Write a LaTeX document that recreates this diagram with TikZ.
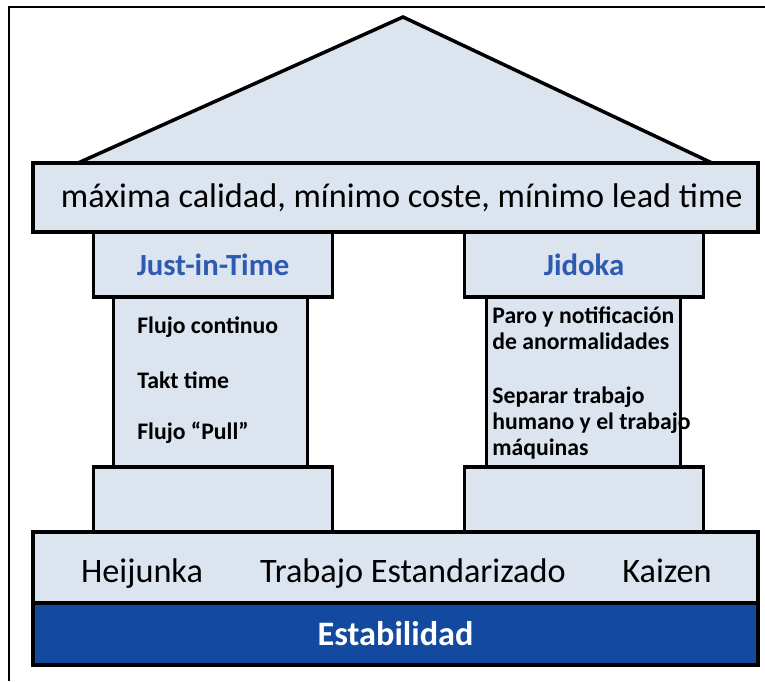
\documentclass[tikz,border=0pt]{standalone}
\usepackage{fontspec}
\setmainfont{Carlito}
\usepackage{tikz}
\usetikzlibrary{positioning}
\definecolor{TempleFill}{HTML}{DCE4F0}
\definecolor{TitleBlue}{HTML}{2D5BB0}
\definecolor{BaseBlue}{HTML}{134A9F}
\tikzset{
  % Box styles
  beambox/.style={rectangle, draw=black, line width=2pt, fill=TempleFill, minimum width=14.5cm, minimum height=1.38cm, inner sep=0pt, font=\fontsize{19.5}{22}\selectfont},
  capbox/.style={rectangle, draw=black, line width=2pt, fill=TempleFill, minimum width=4.78cm, minimum height=1.3cm, inner sep=0pt, font=\fontsize{17.5}{20}\selectfont\bfseries, text=TitleBlue},
  shaftbox/.style={rectangle, draw=black, line width=2pt, fill=TempleFill, minimum width=3.88cm, minimum height=3.4cm, inner sep=0pt},
  bandbox/.style={rectangle, draw=black, line width=2pt, fill=TempleFill, minimum width=14.5cm, minimum height=1.42cm, inner sep=0pt},
  stablebox/.style={rectangle, draw=black, line width=2pt, fill=BaseBlue, minimum width=14.5cm, minimum height=1.24cm, inner sep=0pt, text=white, font=\fontsize{19.5}{22}\selectfont\bfseries},
  % Text styles
  itemtext/.style={anchor=west, inner sep=0pt, align=left, font=\fontsize{13.5}{14.8}\selectfont\bfseries},
  bandtext/.style={anchor=base, inner sep=0pt, font=\fontsize{19.5}{22}\selectfont},
  % Line styles
  roofline/.style={draw=black, line width=2pt, fill=TempleFill, line join=miter},
  frameline/.style={draw=black, line width=1.7pt}
}
\begin{document}
\begin{tikzpicture}
  \useasboundingbox (0,0) rectangle (15.3,13.62);

  % Frame
  \draw[frameline] (0.18,0) -- (0.18,13.48) -- (15.3,13.48);

  % Roof
  \coordinate (eaveL) at (1.56,10.36);
  \coordinate (apex) at (8.06,13.28);
  \coordinate (eaveR) at (14.24,10.36);
  \draw[roofline] (eaveL) -- (apex) -- (eaveR) -- cycle;

  % Beam
  \node[beambox] (beam) at (7.91,9.67) {\hspace*{0.25cm}máxima calidad, mínimo coste, mínimo lead time};

  % Just-in-Time pillar
  \node[capbox] (jitcap) at (4.26,8.33) {Just-in-Time};
  \node[shaftbox] (jitshaft) at (4.21,5.98) {};
  \node[capbox] (jitbase) at (4.26,3.63) {};
  \node[itemtext] (flow) at (2.74,7.08) {Flujo continuo};
  \node[itemtext] (takt) at (2.74,6.02) {Takt time};
  \node[itemtext] (pull) at (2.74,4.96) {Flujo “Pull”};

  % Jidoka pillar
  \node[capbox] (jidcap) at (11.68,8.33) {Jidoka};
  \node[shaftbox] (jidshaft) at (11.67,5.98) {};
  \node[capbox] (jidbase) at (11.68,3.63) {};
  \node[itemtext] (stop) at (9.84,7.06) {Paro y notificación\\de anormalidades};
  \node[itemtext] (split) at (9.84,5.16) {Separar trabajo\\humano y el trabajo\\máquinas};

  % Foundation
  \node[bandbox] (band) at (7.91,2.27) {};
  \node[bandtext] (heijunka) at (2.84,1.98) {Heijunka};
  \node[bandtext] (std) at (8.26,1.98) {Trabajo Estandarizado};
  \node[bandtext] (kaizen) at (13.34,1.98) {Kaizen};
  \node[stablebox] (stable) at (7.91,0.94) {Estabilidad};
\end{tikzpicture}
\end{document}
